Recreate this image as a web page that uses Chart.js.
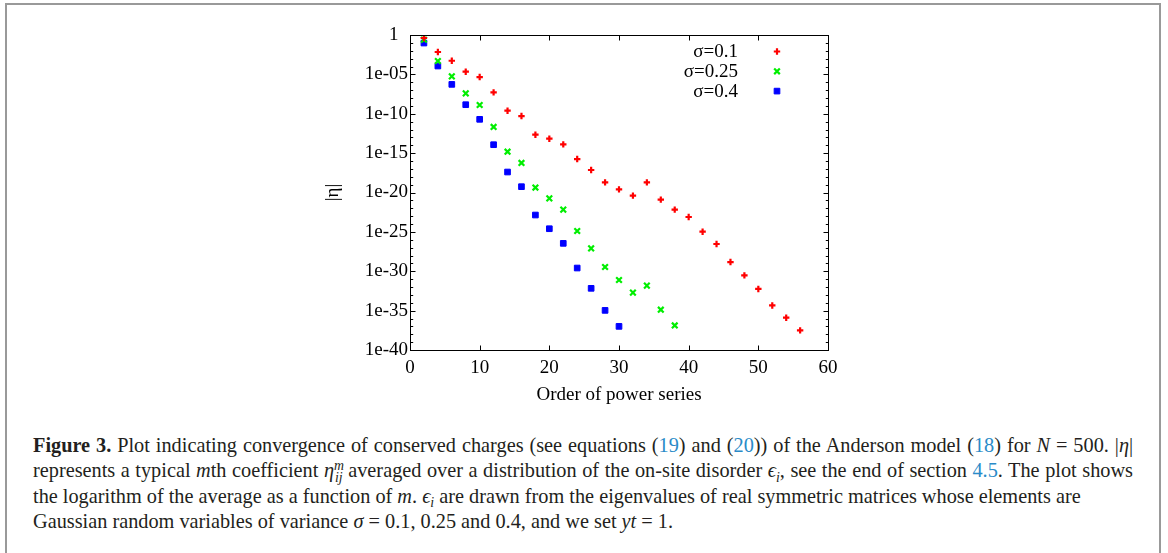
<!DOCTYPE html>
<html>
<head>
<meta charset="utf-8">
<script src="https://cdn.jsdelivr.net/npm/chart.js@4.4.1/dist/chart.umd.min.js"></script>
<style>
  body { margin: 0; background: #fff; }
  #page { position: relative; width: 1168px; height: 553px; overflow: hidden; background: #fff; }
  #frame { position: absolute; left: 5px; top: 3px; width: 1152px; height: 640px; border: 2px solid #999; }
  #chart { position: absolute; left: 0; top: 0; }
  .cap { position: absolute; left: 33px; top: 433px; width: 1100px; font-family: "Liberation Serif", serif;
         font-size: 20.3px; line-height: 25.3px; color: #231f20; }
  .cap div { height: 25.3px; white-space: nowrap; }
  .cap .j { text-align: justify; text-align-last: justify; }
  .cap .r { color: #2a8bc8; }
  .cap sup, .cap sub { position: relative; vertical-align: baseline; line-height: 0; font-size: 0.68em; font-style: italic; }
  .cap sup { top: -0.55em; }
  .cap sub { top: 0.35em; }
</style>
</head>
<body>
<div id="page">
  <div id="frame"></div>
  <canvas id="chart" width="1168" height="410"></canvas>
  <div class="cap">
    <div class="j"><b>Figure 3.</b> Plot indicating convergence of conserved charges (see equations (<span class="r">19</span>) and (<span class="r">20</span>)) of the Anderson model (<span class="r">18</span>) for <i>N</i> = 500. |<i>η</i>|</div>
    <div class="j">represents a typical <i>m</i>th coefficient <i>η</i><sup>m</sup><sub style="margin-left:-9px">ij</sub> averaged over a distribution of the on-site disorder <i>ϵ</i><sub>i</sub>, see the end of section <span class="r">4.5</span>. The plot shows</div>
    <div>the logarithm of the average as a function of <i>m</i>. <i>ϵ</i><sub>i</sub> are drawn from the eigenvalues of real symmetric matrices whose elements are</div>
    <div>Gaussian random variables of variance <i>σ</i> = 0.1, 0.25 and 0.4, and we set <i>yt</i> = 1.</div>
  </div>
</div>
<script>
// order m of the power series
const orders = [2, 4, 6, 8, 10, 12, 14, 16, 18, 20, 22, 24, 26, 28, 30, 32, 34, 36, 38, 40, 42, 44, 46, 48, 50, 52, 54, 56];
const seriesLabels = ["σ=0.1", "σ=0.25", "σ=0.4"];
// log10 |eta|
const logEtaSigma01 = [-0.38, -2.16, -3.27, -4.66, -5.34, -7.28, -9.61, -10.29, -12.66, -13.17, -13.89, -15.75, -17.14, -18.71,
                       -19.60, -20.40, -18.71, -20.90, -22.18, -23.11, -24.98, -26.54, -28.83, -30.53, -32.25, -34.34, -35.90, -37.51];
const logEtaSigma025 = [-0.60, -3.30, -5.25, -7.41, -8.89, -11.68, -14.82, -16.25, -19.37, -20.75, -22.18, -24.89, -27.10, -29.46,
                        -31.11, -32.72, -31.83, -34.88, -36.88];
const logEtaSigma04 = [-1.02, -3.94, -6.27, -8.85, -10.71, -13.93, -17.40, -19.26, -22.86, -24.60, -26.46, -29.59, -32.17, -34.97, -37.00];

const xTicks = [0, 10, 20, 30, 40, 50, 60];
const yTickValues = [1e-40, 1e-35, 1e-30, 1e-25, 1e-20, 1e-15, 1e-10, 1e-5, 1];
const yTickLabels = ["1e-40", "1e-35", "1e-30", "1e-25", "1e-20", "1e-15", "1e-10", "1e-05", "1\u2002"];

function toPoints(logs) {
    return logs.map((e, i) => ({ x: orders[i], y: Math.pow(10, e) }));
}

Chart.defaults.font.family = "'Liberation Serif', serif";
Chart.defaults.color = "#000";

// gnuplot-like box with inward ticks on all four sides
const frameTicks = {
    id: "frameTicks",
    afterDraw(chart) {
        const { ctx, chartArea: a, scales: { x, y } } = chart;
        ctx.save();
        ctx.strokeStyle = "#000";
        ctx.lineWidth = 1;
        const l = Math.round(a.left) + 0.5, r = Math.round(a.right) + 0.5;
        const t = Math.round(a.top) + 0.5, b = Math.round(a.bottom) + 0.5;
        ctx.strokeRect(l, t, r - l, b - t);
        ctx.beginPath();
        xTicks.forEach(v => {
            const px = Math.round(x.getPixelForValue(v)) + 0.5;
            ctx.moveTo(px, b); ctx.lineTo(px, b - 5);
            ctx.moveTo(px, t); ctx.lineTo(px, t + 5);
        });
        for (let e = -40; e <= 0; e++) {
            const len = e % 5 === 0 ? 5 : 2.7;
            const py = Math.round(y.getPixelForValue(Math.pow(10, e))) + 0.5;
            ctx.moveTo(l, py); ctx.lineTo(l + len, py);
            ctx.moveTo(r, py); ctx.lineTo(r - len, py);
        }
        ctx.stroke();
        ctx.restore();
    }
};

// key in the top right corner: text first, sample point after it
const sideKey = {
    id: "sideKey",
    afterDraw(chart) {
        const { ctx, chartArea: a } = chart;
        ctx.save();
        ctx.font = "19px 'Liberation Serif', serif";
        ctx.textAlign = "right";
        ctx.textBaseline = "middle";
        chart.data.datasets.forEach((ds, i) => {
            const cy = a.top + 16.5 + i * 19.8;
            ctx.fillStyle = "#000";
            ctx.fillText(ds.label, a.right - 90, cy + 1);
            ctx.strokeStyle = ds.borderColor;
            ctx.fillStyle = ds.backgroundColor;
            ctx.lineWidth = ds.pointBorderWidth;
            Chart.helpers.drawPoint(ctx, {
                pointStyle: ds.pointStyle, radius: ds.pointRadius, rotation: 0, borderWidth: ds.pointBorderWidth
            }, a.right - 51, cy);
        });
        ctx.restore();
    }
};

new Chart(document.getElementById("chart"), {
    type: "scatter",
    data: {
        datasets: [
            { label: seriesLabels[0], data: toPoints(logEtaSigma01), pointStyle: "cross", pointRadius: 3.2,
              pointBorderWidth: 2.2, borderColor: "#ff0000", backgroundColor: "#ff0000" },
            { label: seriesLabels[1], data: toPoints(logEtaSigma025), pointStyle: "crossRot", pointRadius: 4,
              pointBorderWidth: 2.2, borderColor: "#00ee00", backgroundColor: "#00ee00" },
            { label: seriesLabels[2], data: toPoints(logEtaSigma04), pointStyle: "rect", pointRadius: 4,
              pointBorderWidth: 1, borderColor: "#0000ff", backgroundColor: "#0000ff" }
        ]
    },
    options: {
        responsive: false,
        animation: false,
        events: [],
        layout: { padding: { left: 320, right: 340, top: 35, bottom: 2 } },
        plugins: { legend: { display: false }, tooltip: { enabled: false } },
        scales: {
            x: {
                type: "linear", min: 0, max: 60,
                grid: { display: false, drawTicks: false },
                border: { display: false },
                ticks: { stepSize: 10, padding: 7, font: { size: 19 } },
                title: { display: true, text: "Order of power series", font: { size: 19 }, padding: { top: 0, bottom: 2 } },
                afterFit: s => { s.height = 58; }
            },
            y: {
                type: "logarithmic", min: 1e-40, max: 1,
                grid: { display: false, drawTicks: false },
                border: { display: false },
                afterBuildTicks: s => { s.ticks = yTickValues.map(v => ({ value: v })); },
                ticks: { autoSkip: false, padding: 2, font: { size: 19 }, callback: (v, i) => yTickLabels[i] },
                title: { display: true, text: "|η|", font: { size: 19 }, padding: { top: 2, bottom: 0 } },
                afterFit: s => { s.width = 90; }
            }
        }
    },
    plugins: [frameTicks, sideKey]
});
</script>
</body>
</html>
